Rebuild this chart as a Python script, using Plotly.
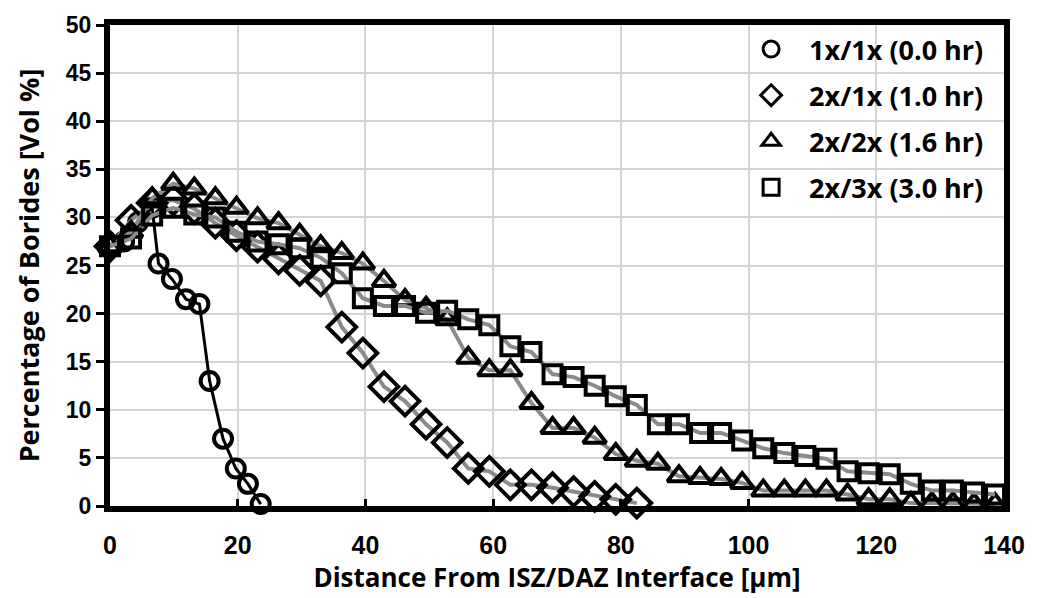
import plotly.graph_objects as go

# ---- data ----
x_c = [0, 2.2, 4.4, 6.6, 7.6, 9.7, 11.9, 14.0, 15.6, 17.7, 19.7, 21.6, 23.6]
y_c = [27, 27.5, 29.5, 31, 25.2, 23.6, 21.5, 21.0, 13.0, 7.0, 3.9, 2.3, 0.2]

x_d = [0, 3.3, 6.6, 9.9, 13.2, 16.5, 19.8, 23.1, 26.4, 29.7, 33.0, 36.3, 39.6,
       42.9, 46.2, 49.5, 52.8, 56.1, 59.4, 62.7, 66.0, 69.3, 72.6, 75.9, 79.2, 82.5]
y_d = [27, 29.7, 31.5, 31.8, 30.9, 29.4, 28.1, 26.9, 25.7, 24.5, 23.4, 18.6, 15.9,
       12.4, 10.9, 8.5, 6.6, 3.9, 3.6, 2.2, 2.2, 1.9, 1.5, 1.0, 0.7, 0.3]

x_t = [0, 3.3, 6.6, 9.9, 13.2, 16.5, 19.8, 23.1, 26.4, 29.7, 33.0, 36.3, 39.6,
       42.9, 46.2, 49.5, 52.8, 56.1, 59.4, 62.7, 66.0, 69.3, 72.6, 75.9, 79.2,
       82.5, 85.8, 89.1, 92.4, 95.7, 99.0, 102.3, 105.6, 108.9, 112.2, 115.5,
       118.8, 122.1, 125.4, 128.7, 132.0, 135.3, 138.6]
y_t = [27, 28.5, 32.0, 33.5, 33.0, 32.0, 31.0, 29.9, 29.4, 28.2, 27.0, 26.3, 25.2,
       23.4, 21.4, 20.6, 19.4, 15.4, 14.1, 14.1, 10.7, 8.1, 8.1, 7.1, 5.4,
       4.7, 4.4, 3.1, 2.9, 2.8, 2.4, 1.6, 1.6, 1.6, 1.6, 1.2,
       0.7, 0.7, 0.3, 0.3, 0.3, 0.2, 0.2]

x_s = x_t
y_s = [27, 27.8, 30.2, 31.0, 30.3, 30.0, 28.5, 27.5, 27.2, 26.8, 25.8, 24.2, 21.6,
       20.8, 20.8, 20.1, 20.3, 19.4, 18.8, 16.6, 16.0, 13.7, 13.4, 12.5, 11.4,
       10.5, 8.5, 8.5, 7.6, 7.6, 6.8, 6.0, 5.5, 5.2, 4.9, 3.6,
       3.4, 3.3, 2.3, 1.6, 1.6, 1.4, 1.2]

names = ["1x/1x (0.0 hr)", "2x/1x (1.0 hr)", "2x/2x (1.6 hr)", "2x/3x (3.0 hr)"]
x_ticks = [0, 20, 40, 60, 80, 100, 120, 140]
y_ticks = [0, 5, 10, 15, 20, 25, 30, 35, 40, 45, 50]

GREY = "#8a8a8a"
fig = go.Figure()

series = [
    (x_c, y_c, "circle-open", 18, "black", 3),
    (x_d, y_d, "diamond-open", 22, GREY, 4),
    (x_t, y_t, "triangle-up-open", 20, GREY, 4),
    (x_s, y_s, "square-open", 18, GREY, 4),
]
for (xs, ys, sym, sz, lc, lw), nm in zip(series, names):
    fig.add_trace(go.Scatter(
        x=xs, y=ys, mode="lines+markers", showlegend=False, cliponaxis=False,
        line=dict(color=lc, width=lw),
        marker=dict(symbol=sym, size=sz, color="black", line=dict(width=4, color="black")),
    ))

# legend-only entries (markers only, as in the reference)
for (xs, ys, sym, sz, lc, lw), nm in zip(series, names):
    fig.add_trace(go.Scatter(
        x=[None], y=[None], mode="markers", name="<b>" + nm + "</b>", legendgroup=nm,
        marker=dict(symbol=sym, size=18, color="black", line=dict(width=3, color="black")),
    ))

axis_common = dict(
    showline=True, linecolor="black", linewidth=6, mirror=True,
    showgrid=True, gridcolor="#d4d4d4", gridwidth=2, zeroline=False,
    tickcolor="black", tickwidth=3,
)

fig.update_layout(
    width=1037, height=598,
    margin=dict(l=110, r=25, t=22, b=92),
    paper_bgcolor="white", plot_bgcolor="white",
    font=dict(family="Liberation Sans", color="black"),
    xaxis=dict(
        range=[0, 140], tickvals=x_ticks, ticktext=["<b>%d</b>" % v for v in x_ticks],
        ticks="inside", ticklen=7,
        tickfont=dict(family="Liberation Sans", size=25),
        ticklabelstandoff=12,
        title=dict(text="<b>Distance From ISZ/DAZ Interface [µm]</b>", standoff=5,
                   font=dict(family="Open Sans", size=26)),
        **axis_common,
    ),
    yaxis=dict(
        range=[0, 50], tickvals=y_ticks, ticktext=["<b>%d</b>" % v for v in y_ticks],
        ticks="outside", ticklen=8,
        tickfont=dict(family="Liberation Sans", size=23),
        ticklabelstandoff=0,
        title=dict(text="<b>Percentage of Borides [Vol %]</b>", standoff=20,
                   font=dict(family="Open Sans", size=27)),
        **axis_common,
    ),
    legend=dict(
        x=0.697, xanchor="left", y=1.0, yanchor="top",
        bgcolor="rgba(0,0,0,0)", tracegroupgap=8,
        font=dict(family="Open Sans", size=27, color="black"),
        itemwidth=66,
    ),
)

fig.write_html("out.html")
